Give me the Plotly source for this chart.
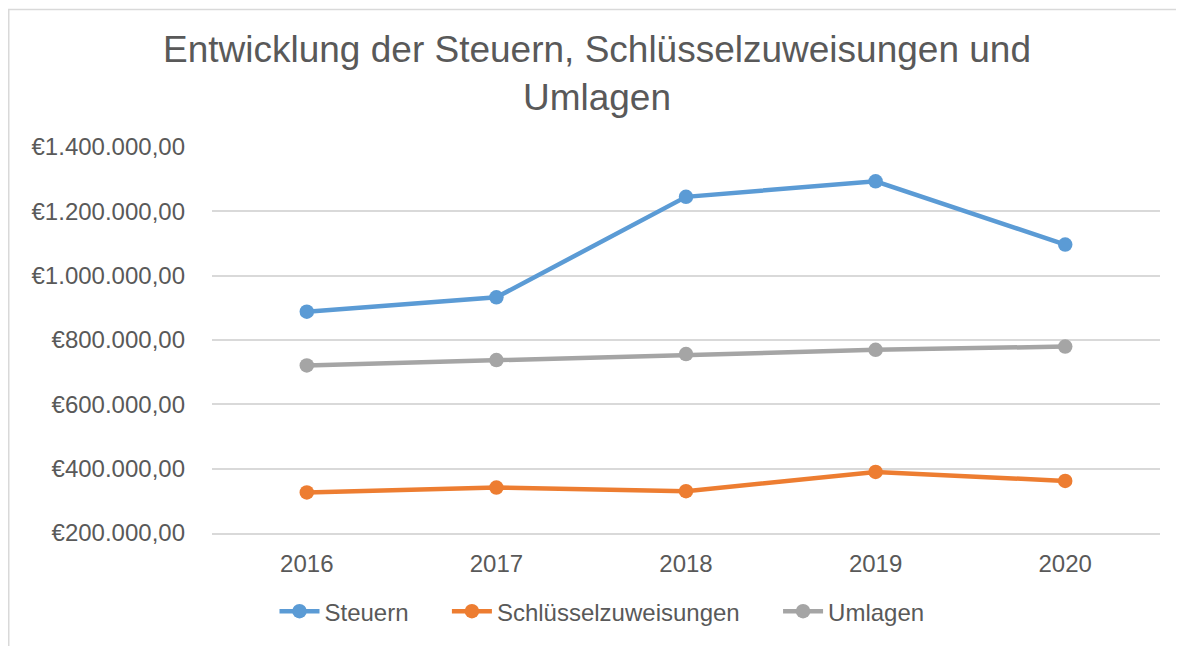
import plotly.graph_objects as go

years = ["2016", "2017", "2018", "2019", "2020"]
steuern = [888000, 932600, 1245000, 1293500, 1096700]
schluessel = [326000, 341400, 330000, 389700, 362000]
umlagen = [720900, 737600, 756200, 769500, 779700]
series_names = ["Steuern", "Schlüsselzuweisungen", "Umlagen"]
colors = ["#5B9BD5", "#ED7D31", "#A5A5A5"]

OFF = 8  # page body margin
W, H = 1184 - OFF, 646 - OFF
L, R, T, B = 212 - OFF, 24, 147 - OFF, 111
pw, ph = W - L - R, H - T - B

def px(x):  # page pixel -> paper x
    return (x - OFF - L) / pw

def py(y):  # page pixel -> paper y
    return (H - B - (y - OFF)) / ph

FONT = "Liberation Sans, Arial, sans-serif"
TXT = "#595959"
NB = "\u00a0" * 5

fig = go.Figure()
for i, (name, vals, c) in enumerate(zip(series_names, [steuern, schluessel, umlagen], colors)):
    fig.add_trace(go.Scatter(
        x=years, y=vals, name=name + (NB if i < 2 else ""), mode="lines+markers",
        line=dict(color=c, width=4.5),
        marker=dict(color=c, size=14.5),
        hovertemplate=name + ": %{y}<extra></extra>",
    ))

fig.update_layout(
    width=W, height=H,
    margin=dict(l=L, r=R, t=T, b=B),
    paper_bgcolor="white", plot_bgcolor="white",
    separators=",.",
    font=dict(family=FONT, color=TXT, size=24),
    title=dict(
        text="Entwicklung der Steuern, Schlüsselzuweisungen und<br>Umlagen",
        font=dict(family=FONT, color=TXT, size=37),
        x=(597 - OFF) / W, xanchor="center", xref="container",
        y=1 - (71 - OFF - 9) / H, yanchor="middle", yref="container",
    ),
    showlegend=True,
    legend=dict(
        orientation="h", x=px(602), xanchor="center",
        y=py(614), yanchor="middle",
        font=dict(family=FONT, color=TXT, size=24),
        itemwidth=40, traceorder="normal",
    ),
    xaxis=dict(
        type="category", range=[-0.5, 4.5],
        showgrid=False, showline=True, linecolor="#D9D9D9", linewidth=1.5,
        ticks="", tickfont=dict(size=24, color=TXT), ticklabelstandoff=8,
        fixedrange=True,
    ),
    yaxis=dict(
        range=[200000, 1400000], dtick=200000, tick0=200000,
        tickprefix="€", tickformat=",.2f",
        showgrid=True, gridcolor="#D9D9D9", gridwidth=1.5,
        zeroline=False, showline=False,
        ticks="", tickfont=dict(size=24, color=TXT), ticklabelstandoff=26,
        fixedrange=True,
    ),
    shapes=[dict(
        type="rect", xref="paper", yref="paper",
        x0=px(8.75), x1=px(1200), y0=py(660), y1=py(8.75),
        line=dict(color="#D9D9D9", width=1.5), fillcolor="rgba(0,0,0,0)",
        layer="below",
    )],
)

fig.write_html("out.html")
